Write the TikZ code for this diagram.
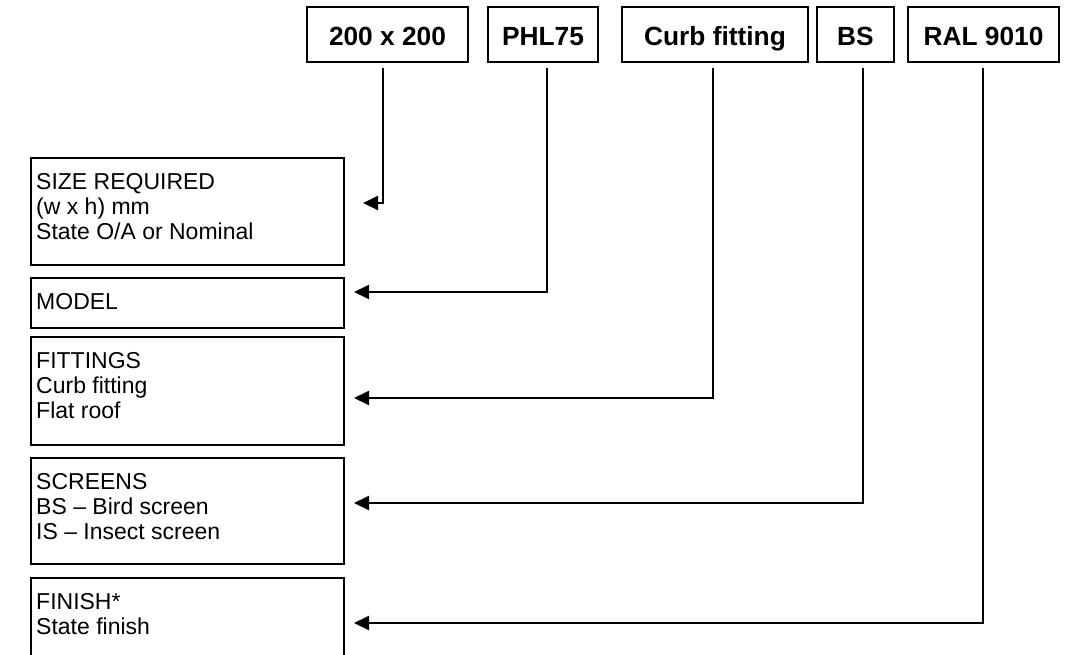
\documentclass[tikz,border=0pt]{standalone}
\usepackage{fontspec}
\setmainfont{Liberation Sans}
\usetikzlibrary{arrows.meta}
\begin{document}
\begin{tikzpicture}[x=1pt,y=1pt,
  topbox/.style={draw, line width=2pt, anchor=north west, minimum height=55pt, inner sep=0pt, outer sep=0pt, text height=27pt, text depth=5.5pt, font=\fontsize{26.3}{30}\selectfont\bfseries},
  lbox/.style={draw, line width=2pt, anchor=north west, minimum width=313pt, inner sep=0pt, outer sep=0pt},
  ltext/.style={anchor=north west, align=left, inner sep=0pt, font=\fontsize{23}{25}\selectfont},
  conn/.style={line width=2pt, -{Triangle[length=15pt,width=14pt]}}]
\useasboundingbox (0,0) rectangle (1069,-654);
\clip (0,0) rectangle (1069,-654);
% top boxes
\node[topbox, minimum width=161pt] (A) at (307,-7) {200 x 200};
\node[topbox, minimum width=110pt] (B) at (488,-7) {PHL75};
\node[topbox, minimum width=186pt] (C) at (622,-7) {Curb fitting};
\node[topbox, minimum width=77pt]  (D) at (817,-7) {BS};
\node[topbox, minimum width=151pt] (E) at (908,-7) {RAL 9010};
% left boxes
\node[lbox, minimum height=107pt] (size) at (31,-158) {};
\node[lbox, minimum height=50pt]  (model) at (31,-278) {};
\node[lbox, minimum height=108pt] (fit) at (31,-337) {};
\node[lbox, minimum height=106pt] (scr) at (31,-458) {};
\node[lbox, minimum height=120pt] (fin) at (31,-578) {};
% texts
\node[ltext] (tsize) at ([xshift=5pt,yshift=-15.5pt]size.north west) {SIZE REQUIRED\\(w x h) mm\\State O/A or Nominal};
\node[ltext] (tmodel) at ([xshift=5pt,yshift=-15.5pt]model.north west) {MODEL};
\node[ltext] (tfit) at ([xshift=5pt,yshift=-15.5pt]fit.north west) {FITTINGS\\Curb fitting\\Flat roof};
\node[ltext] (tscr) at ([xshift=5pt,yshift=-15.5pt]scr.north west) {SCREENS\\BS -- Bird screen\\IS -- Insect screen};
\node[ltext] (tfin) at ([xshift=5pt,yshift=-15.5pt]fin.north west) {FINISH*\\State finish};
% connector start and end points
\coordinate (a0) at (383,-68);
\coordinate (b0) at (547,-68);
\coordinate (c0) at (713,-68);
\coordinate (d0) at (863,-68);
\coordinate (e0) at (983,-68);
\coordinate (a1) at (363,-203);
\coordinate (b1) at (354,-292);
\coordinate (c1) at (354,-398);
\coordinate (d1) at (354,-503);
\coordinate (e1) at (354,-623);
\draw[conn] (a0) |- (a1);
\draw[conn] (b0) |- (b1);
\draw[conn] (c0) |- (c1);
\draw[conn] (d0) |- (d1);
\draw[conn] (e0) |- (e1);
\end{tikzpicture}
\end{document}
